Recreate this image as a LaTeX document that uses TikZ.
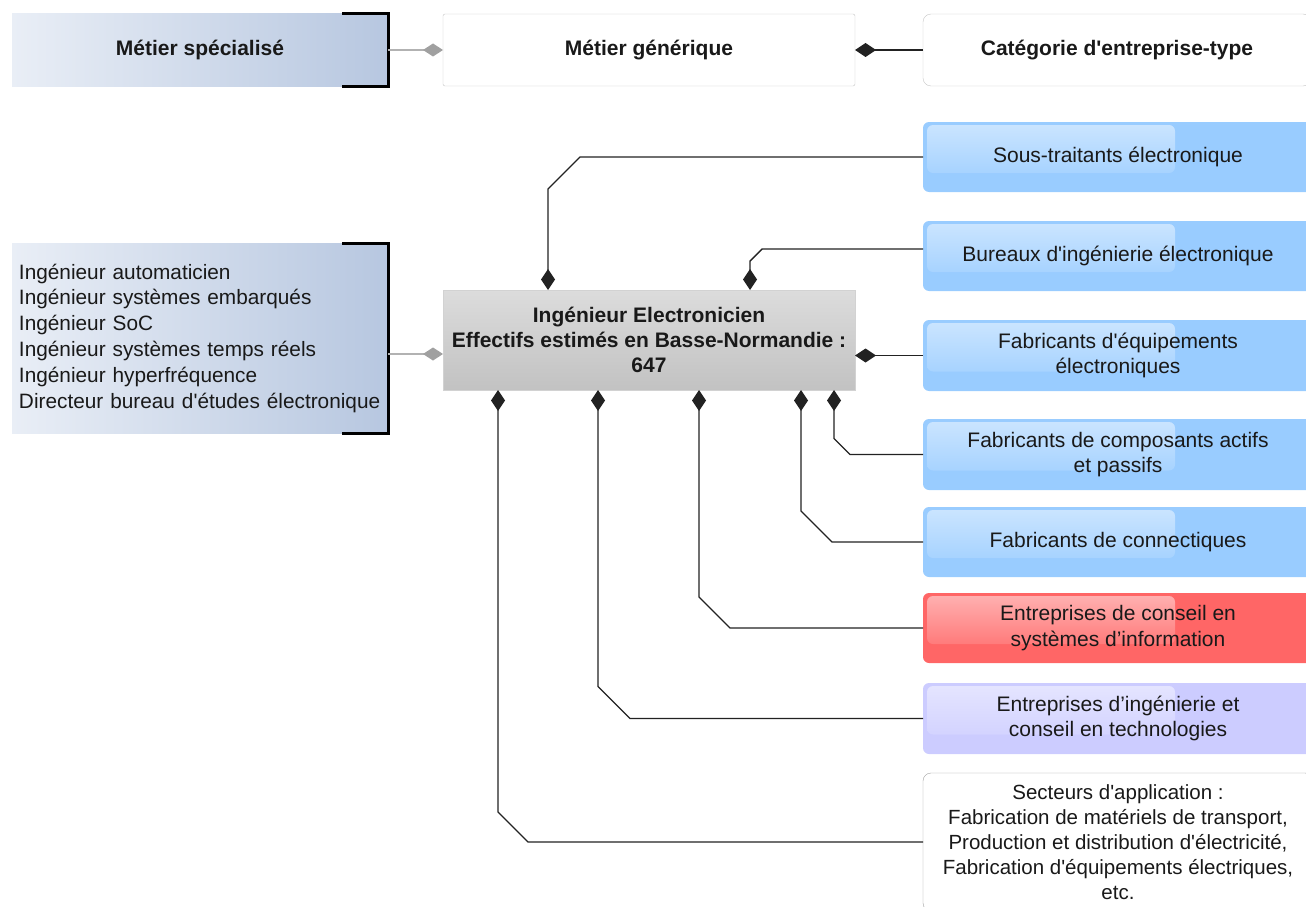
\documentclass[tikz,border=0pt]{standalone}
\usepackage{fontspec}
\setmainfont{Liberation Sans}[Ligatures=TeXOff]
\usetikzlibrary{arrows.meta}
\definecolor{blueA}{RGB}{153,204,255}
\definecolor{redA}{RGB}{255,102,102}
\definecolor{lavA}{RGB}{204,204,255}
\definecolor{specL}{RGB}{233,238,246}
\definecolor{specR}{RGB}{183,199,224}
\definecolor{grayTop}{RGB}{220,220,220}
\definecolor{grayBot}{RGB}{194,194,194}
\definecolor{lineC}{RGB}{34,34,34}
\definecolor{gline}{RGB}{178,178,178}
\definecolor{txt}{RGB}{25,25,25}
\begin{document}
\begin{tikzpicture}[x=1pt,y=-1pt,
  every node/.style={inner sep=0pt, outer sep=0pt, text=txt, anchor=north west},
  fnt/.style={font=\fontsize{21}{25.5}\selectfont},
  bfnt/.style={font=\fontsize{21}{25}\selectfont\bfseries},
  specbox/.style={left color=specL, right color=specR, minimum width=376pt},
  glossy/.style={fill=#1, rounded corners=6pt, minimum width=390pt, align=center, fnt,
    path picture={\shade[top color=white!50!#1, bottom color=#1, rounded corners=6pt]
      ([xshift=4pt,yshift=-3pt]path picture bounding box.north west) rectangle
      ([xshift=252pt,yshift=-16pt]path picture bounding box.west);}},
  conn/.style={draw=lineC, line width=1.4pt, -{Diamond[length=21pt,width=14pt]}},
  gconn/.style={draw=gline, line width=1.2pt, -{Diamond[length=20pt,width=13pt,color=gline!90!black]}},
  bracket/.style={draw=black, line width=3pt}
]
\clip (0,0) rectangle (1306,907);
\useasboundingbox (0,0) rectangle (1306,907);

% top row
\node[specbox, minimum height=72pt, bfnt] (ms) at (12,14) {M\'etier sp\'ecialis\'e};
\node[draw=gray!45, fill=white, rounded corners=2pt, minimum width=412pt, minimum height=72pt, bfnt] (mg) at (443,14) {M\'etier g\'en\'erique};
\node[draw=gray!45, fill=white, rounded corners=8pt, minimum width=388pt, minimum height=72pt, bfnt] (cat) at (923,14) {Cat\'egorie d'entreprise-type};
\draw[bracket] ([xshift=-46pt]ms.north east) -- (ms.north east) -- (ms.south east) -- ([xshift=-46pt]ms.south east);

% left list
\node[specbox, minimum height=190pt, font=\fontsize{20.8}{25.8}\selectfont, align=left, text width=362pt, inner xsep=7pt] (lst) at (12,243)
  {Ing\'enieur automaticien\\Ing\'enieur syst\`emes embarqu\'es\\Ing\'enieur SoC\\Ing\'enieur syst\`emes temps r\'eels\\Ing\'enieur hyperfr\'equence\\Directeur bureau d'\'etudes \'electronique};
\draw[bracket] ([xshift=-46pt]lst.north east) -- (lst.north east) -- (lst.south east) -- ([xshift=-46pt]lst.south east);

% central
\node[top color=grayTop, bottom color=grayBot, draw=gray!35, minimum width=412pt, minimum height=100pt, bfnt, align=center] (c) at (443,290)
  {Ing\'enieur Electronicien\\Effectifs estim\'es en Basse-Normandie :\\647};

% right boxes
\node[glossy=blueA, minimum height=70pt] (st) at (923,122) {Sous-traitants \'electronique};
\node[glossy=blueA, minimum height=70pt] (bi) at (923,221) {Bureaux d'ing\'enierie \'electronique};
\node[glossy=blueA, minimum height=71pt] (fe) at (923,320) {Fabricants d'\'equipements\\\'electroniques};
\node[glossy=blueA, minimum height=71pt] (fc) at (923,419) {Fabricants de composants actifs\\et passifs};
\node[glossy=blueA, minimum height=70pt] (fx) at (923,507) {Fabricants de connectiques};
\node[glossy=redA, minimum height=70pt] (ec) at (923,593) {Entreprises de conseil en\\syst\`emes d’information};
\node[glossy=lavA, minimum height=71pt] (ei) at (923,683) {Entreprises d’ing\'enierie et\\conseil en technologies};
\node[draw=gray!75, fill=white, rounded corners=8pt, minimum width=390pt, minimum height=138pt, align=center,
      font=\fontsize{20.5}{25}\selectfont] (sa) at (923,773)
  {Secteurs d'application :\\Fabrication de mat\'eriels de transport,\\Production et distribution d'\'electricit\'e,\\Fabrication d'\'equipements \'electriques,\\etc.};

% connectors
\draw[gconn] (ms.east) -- (mg.west);
\draw[conn] (cat.west) -- (mg.east);
\draw[gconn] ([yshift=-16pt]lst.east) -- ([yshift=-16pt]lst.east -| c.west);

\draw[conn] (st.west) -- ++(-343,0) -- ++(-32,32) -- ([xshift=105pt]c.north west);
\draw[conn] ([yshift=7pt]bi.west) -- ++(-161,0) -- ++(-12,12) -- ([xshift=307pt]c.north west);
\draw[conn] (fe.west) -- (fe.west -| c.east);
\draw[conn] (fc.west) -- ++(-73,0) -- ++(-16,-16) -- ([xshift=391pt]c.south west);
\draw[conn] (fx.west) -- ++(-91,0) -- ++(-31,-31) -- ([xshift=358pt]c.south west);
\draw[conn] (ec.west) -- ++(-193,0) -- ++(-31,-31) -- ([xshift=256pt]c.south west);
\draw[conn] (ei.west) -- ++(-293,0) -- ++(-32,-32) -- ([xshift=155pt]c.south west);
\draw[conn] (sa.west) -- ++(-395,0) -- ++(-30,-30) -- ([xshift=55pt]c.south west);
\end{tikzpicture}
\end{document}
